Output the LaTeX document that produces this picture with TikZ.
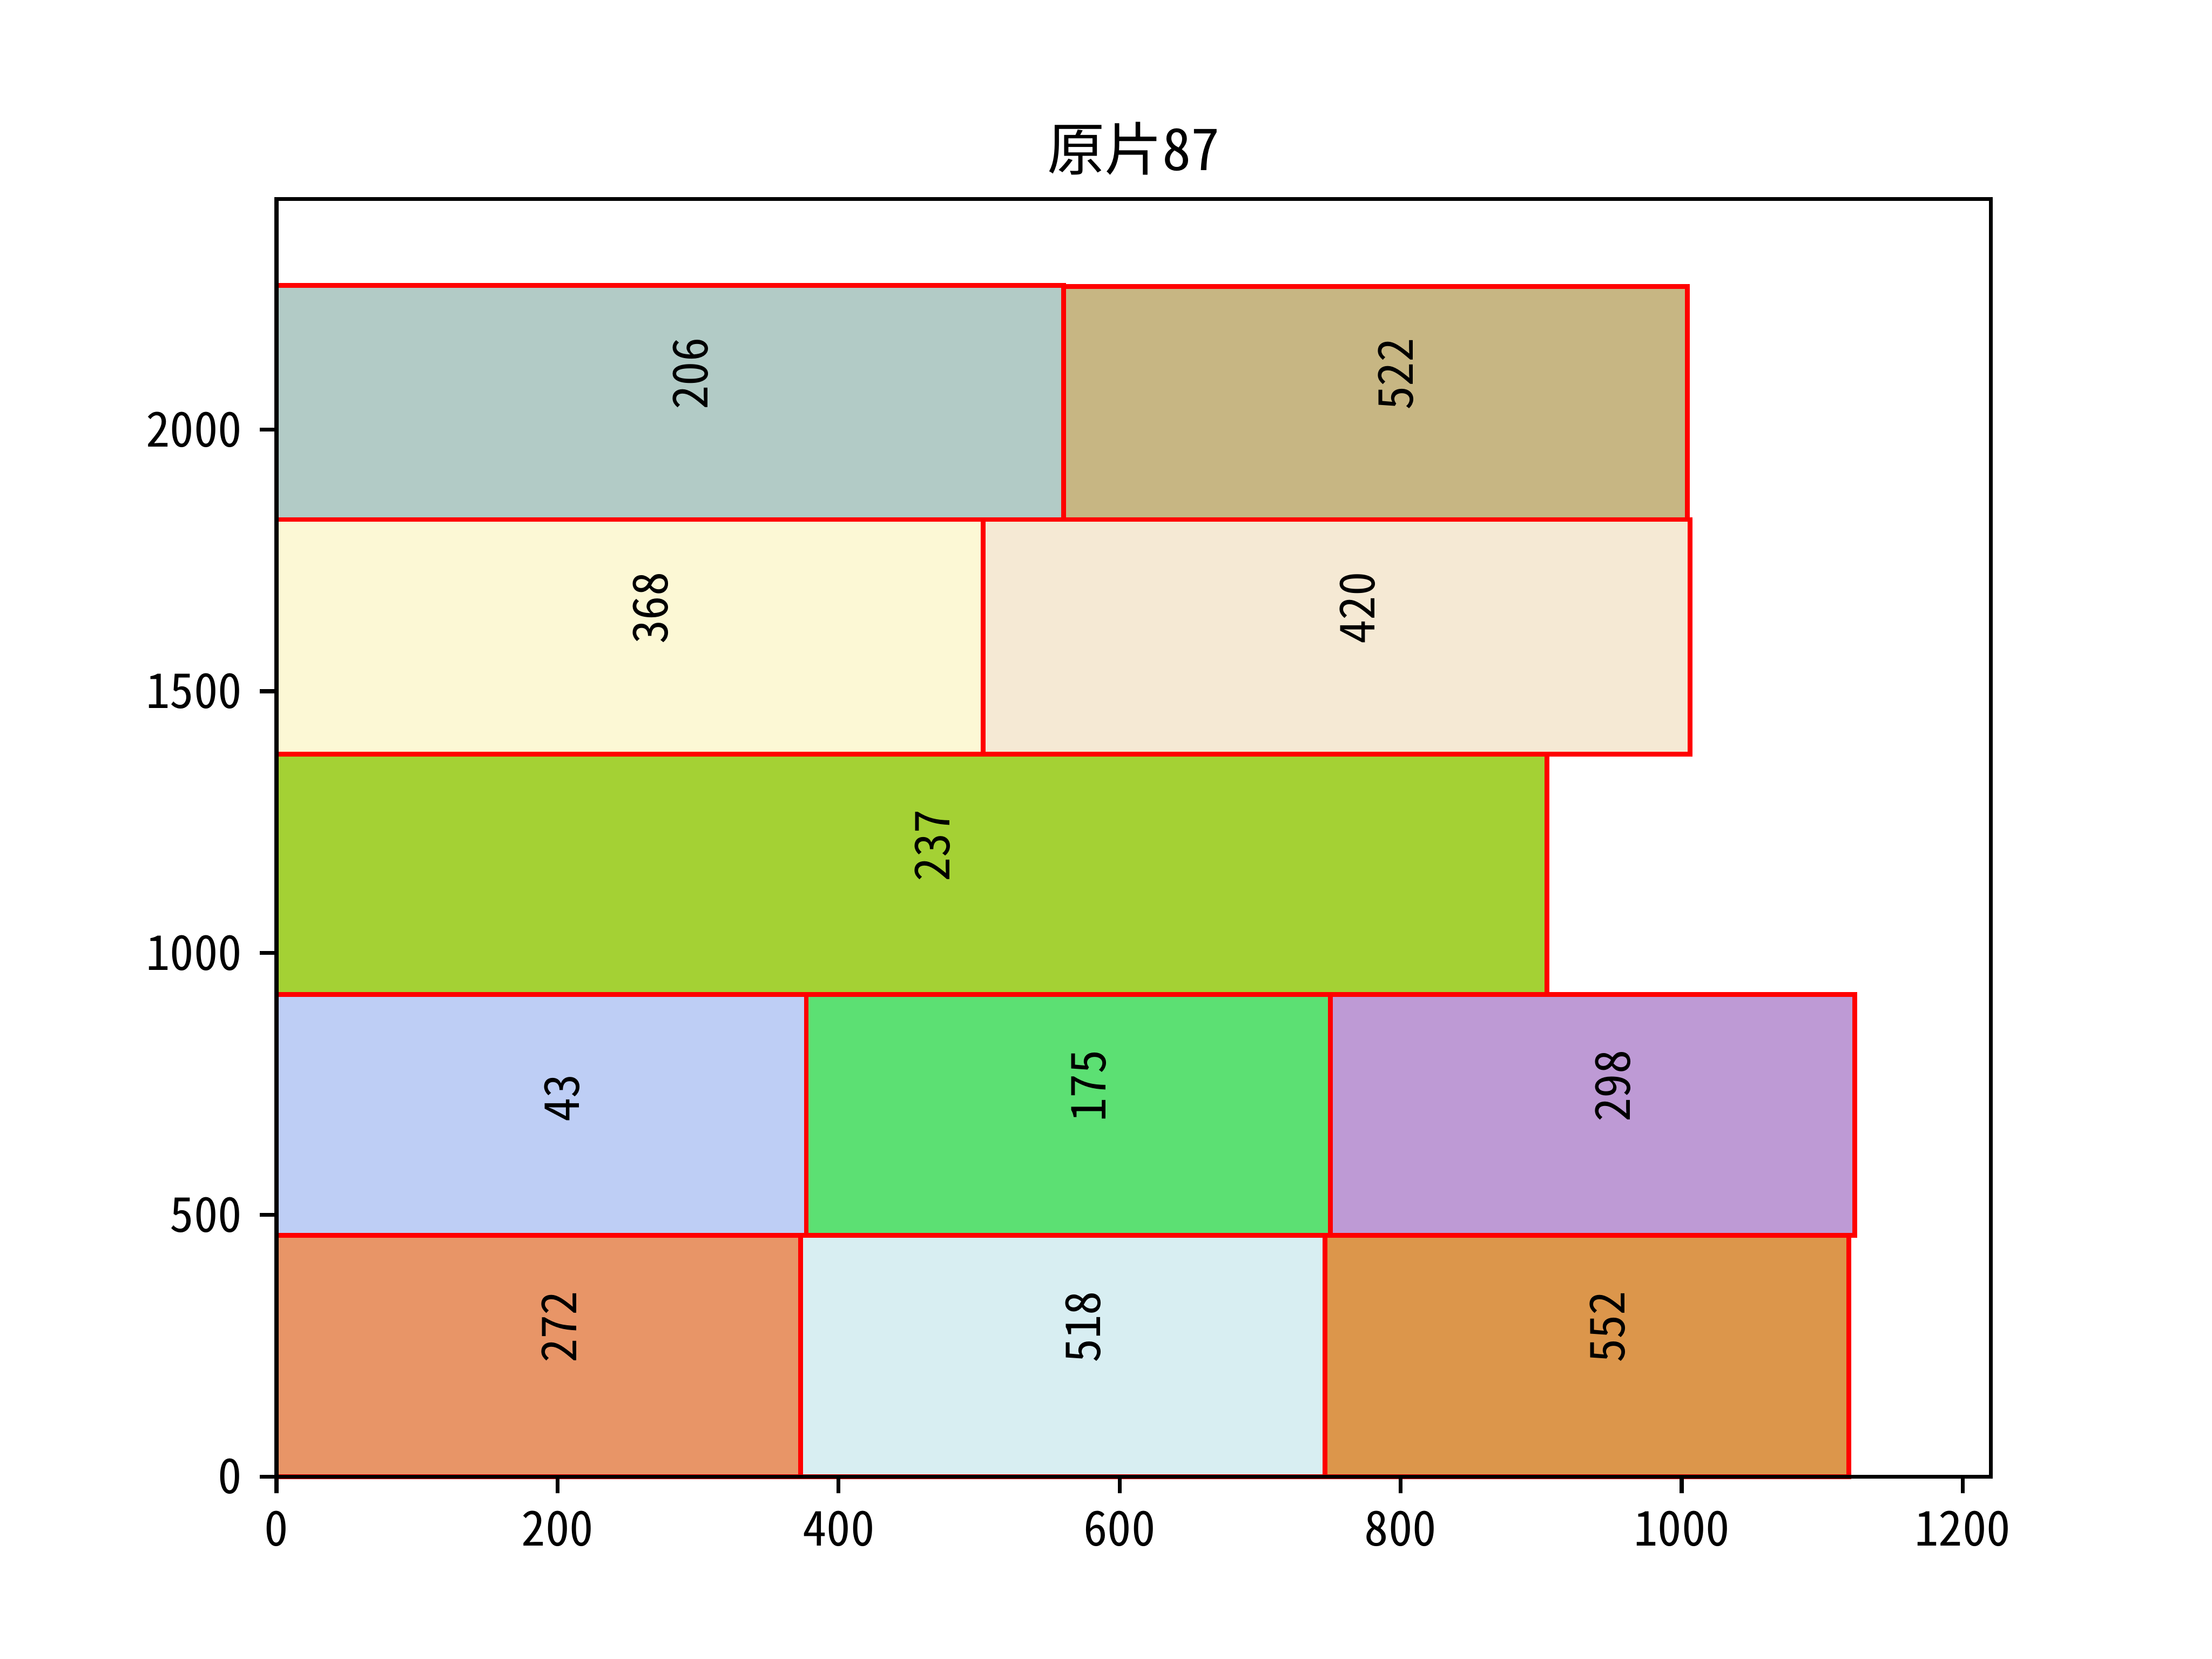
\documentclass[tikz,border=0pt]{standalone}
\usepackage{fontspec}
\setmainfont[RawFeature=+hwid]{Noto Sans CJK SC}
\definecolor{c272}{HTML}{E89567}
\definecolor{c518}{HTML}{D8EEF2}
\definecolor{c552}{HTML}{DC964B}
\definecolor{c43}{HTML}{BECEF5}
\definecolor{c175}{HTML}{5CE073}
\definecolor{c298}{HTML}{BE9AD5}
\definecolor{c237}{HTML}{A4D134}
\definecolor{c368}{HTML}{FCF8D5}
\definecolor{c420}{HTML}{F5E9D4}
\definecolor{c206}{HTML}{B2CBC6}
\definecolor{c522}{HTML}{C7B683}
\tikzset{
  piece/.style={draw=red, line width=1pt, line join=miter},
  lab/.style={font=\fontsize{10}{12}\selectfont, inner sep=0pt, xshift=0.4pt, yshift=-1.7pt, rotate=90, anchor=north west},
  spine/.style={line width=0.8pt, black},
  tickx/.style={font=\fontsize{10}{12}\selectfont, inner sep=0pt, anchor=north},
  ticky/.style={font=\fontsize{10}{12}\selectfont, inner sep=0pt, anchor=east}
}
\newcommand\mypiece[6]{%
  \fill[#5] (#1,#2) rectangle (#3,#4);
  \draw[piece] (#1,#2) rectangle (#3,#4);
  \node[lab] (l#6) at ({(#1+#3)/2},{(#2+#4)/2}) {#6};
}
\begin{document}
\begin{tikzpicture}[x=1pt,y=1pt]
\useasboundingbox (0,0) rectangle (460.8,345.6);
\fill[white] (0,0) rectangle (460.8,345.6);
\begin{scope}[shift={(57.6,38.016)}, x=0.292721pt, y=0.109062pt]
  \mypiece{0}{0}{373}{461}{c272}{272}
  \mypiece{373}{0}{746}{461}{c518}{518}
  \mypiece{746}{0}{1119}{461}{c552}{552}
  \mypiece{0}{461}{377}{920.6}{c43}{43}
  \mypiece{377}{461}{750}{920.6}{c175}{175}
  \mypiece{750}{461}{1123}{920.6}{c298}{298}
  \mypiece{0}{920.6}{904}{1380}{c237}{237}
  \mypiece{0}{1380}{503}{1828}{c368}{368}
  \mypiece{503}{1380}{1006}{1828}{c420}{420}
  \mypiece{0}{1828}{560}{2275.4}{c206}{206}
  \mypiece{560}{1828}{1004}{2273}{c522}{522}
  % axes frame
  \draw[spine] (0,0) rectangle (1220,2440);
  \coordinate (axtop) at (610,2440);
  \node[font=\fontsize{12}{14}\selectfont, inner sep=0pt, anchor=base] (title) at ([yshift=6pt]axtop) {原片87};
  % x ticks
  \foreach \v in {0,200,...,1200}{
    \coordinate (xt\v) at (\v,0);
    \draw[spine] (xt\v) -- ++(0,-3.5pt);
    \node[tickx] (xl\v) at ([yshift=-7pt]xt\v) {\v};
  }
  % y ticks
  \foreach \v in {0,500,...,2000}{
    \coordinate (yt\v) at (0,\v);
    \draw[spine] (yt\v) -- ++(-3.5pt,0);
    \node[ticky] (yl\v) at ([xshift=-7pt]yt\v) {\v};
  }
\end{scope}
\end{tikzpicture}
\end{document}
